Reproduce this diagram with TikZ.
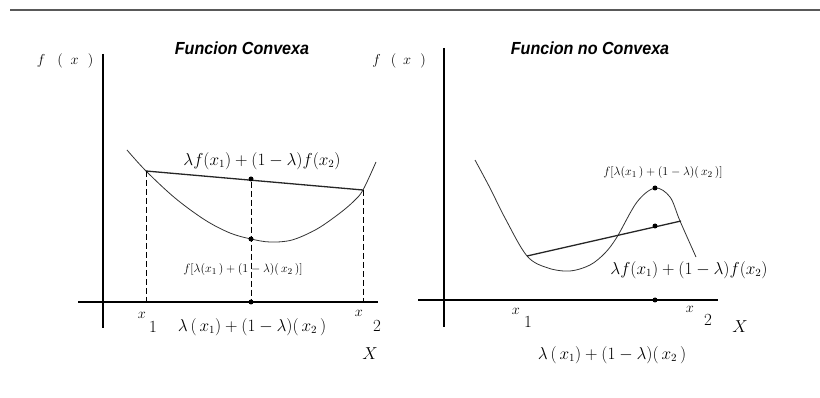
\documentclass[tikz,border=0pt]{standalone}
\usepackage{fontspec}
\usepackage{graphicx}
\newfontfamily\titlefont{Liberation Sans}
\begin{document}
\begin{tikzpicture}[x=1pt,y=-1pt,
  axis/.style={line width=1.3pt, black},
  curve/.style={line width=0.8pt, black!80},
  chord/.style={line width=1.3pt, black!85},
  guide/.style={line width=0.8pt, black, dash pattern=on 6pt off 3pt},
  dot/.style={circle, fill=black, inner sep=0pt, minimum size=5pt},
  lbl/.style={inner sep=0pt, font=\fontsize{16}{18}\selectfont},
  small/.style={inner sep=0pt, font=\fontsize{12.7}{15}\selectfont},
  ticklbl/.style={inner sep=0pt, font=\fontsize{15}{15}\selectfont},
  tickno/.style={inner sep=0pt, font=\fontsize{17}{17}\selectfont},
  fxlbl/.style={inner sep=0pt, font=\fontsize{14}{16}\selectfont},
  title/.style={inner sep=0pt, font=\titlefont\bfseries\itshape\fontsize{17.5}{20}\selectfont}]
\useasboundingbox (0,0) rectangle (820,398);

% top rule
\coordinate (r1) at (10,10);
\coordinate (r2) at (820,10);
\draw[line width=2pt, black!65] (r1) -- (r2);

%%%%%%%%%%%%%%%% LEFT: convex %%%%%%%%%%%%%%%%
\coordinate (Lyt) at (103,54);
\coordinate (Lyb) at (103,328);
\coordinate (Lxl) at (78,302);
\coordinate (Lxr) at (378,302);
\draw[axis] (Lyt) -- (Lyb);
\draw[axis] (Lxl) -- (Lxr);

\node[title] (Ltitle) at (242,48) {\scalebox{0.92}[1]{Funcion Convexa}};
\node[fxlbl] (Lfx) at (65,61) {$f\hspace{12pt}(\hspace{8pt}x\hspace{9pt})$};

\draw[curve] plot[smooth, tension=0.55] coordinates {(127,150) (146,171) (175,198) (205,220) (230,233) (251,239) (270,242) (292,240) (317,229) (340,213) (354,201) (363,190) (376,162)};

\coordinate (LA) at (146,171);
\coordinate (LB) at (363,190);
\draw[chord] (LA) -- (LB);

\node[dot] (Lchord) at (251,179) {};
\node[dot] (Lcurve) at (251,239) {};
\node[dot] (Laxis) at (251,302) {};
\coordinate (LAx) at (146,302);
\coordinate (LBx) at (363,302);
\draw[guide] (LA) -- (LAx);
\draw[guide] (LB) -- (LBx);
\draw[guide] (Lchord) -- (Laxis);

\node[lbl] (Lchordlbl) at (262,161) {$\lambda f(x_1)+(1-\lambda)f(x_2)$};
\node[small] (Lcurvelbl) at (243,270) {$f[\lambda(x_1\,)+(1-\lambda)(\,x_2\,)]$};
\node[lbl] (Laxislbl) at (252,327) {$\lambda\,(\,x_1)+(1-\lambda)(\,x_2\,)$};

\node[ticklbl] (Lx1a) at (142,315) {$x$};
\node[tickno] (Lx1b) at (153,327) {1};
\node[ticklbl] (Lx2a) at (359,313) {$x$};
\node[tickno] (Lx2b) at (377,326) {2};
\node[tickno] (LX) at (370,354) {$X$};

%%%%%%%%%%%%%%%% RIGHT: non convex %%%%%%%%%%%%%%%%
\coordinate (Ryt) at (444,48);
\coordinate (Ryb) at (444,327);
\coordinate (Rxl) at (418,300);
\coordinate (Rxr) at (718,300);
\draw[axis] (Ryt) -- (Ryb);
\draw[axis] (Rxl) -- (Rxr);

\node[title] (Rtitle) at (590,48) {\scalebox{0.92}[1]{Funcion no Convexa}};
\node[fxlbl] (Rfx) at (399,61) {$f\hspace{10pt}(\hspace{7pt}x\hspace{9pt})$};

\draw[curve] plot[smooth, tension=0.55] coordinates {(475,160) (490,188) (505,218) (527,256) (548,268) (570,271) (590,265) (605,253) (617,237) (637,202) (655,188) (670,197) (680,221) (696,257)};

\coordinate (RA) at (527,256);
\coordinate (RB) at (681,221);
\draw[chord] (RA) -- (RB);

\node[dot] (Rchord) at (655,226) {};
\node[dot] (Rcurve) at (655,188) {};
\node[dot] (Raxis) at (655,300) {};

\node[small] (Rcurvelbl) at (663,173) {$f[\lambda(x_1\,)+(1-\lambda)(\,x_2\,)]$};
\node[lbl] (Rchordlbl) at (689,270) {$\lambda f(x_1)+(1-\lambda)f(x_2)$};
\node[lbl] (Raxislbl) at (612,355) {$\lambda\,(\,x_1)+(1-\lambda)(\,x_2\,)$};

\node[ticklbl] (Rx1a) at (516,311) {$x$};
\node[tickno] (Rx1b) at (528,322) {1};
\node[ticklbl] (Rx2a) at (690,309) {$x$};
\node[tickno] (Rx2b) at (708,320) {2};
\node[tickno] (RX) at (740,327) {$X$};
\end{tikzpicture}
\end{document}
